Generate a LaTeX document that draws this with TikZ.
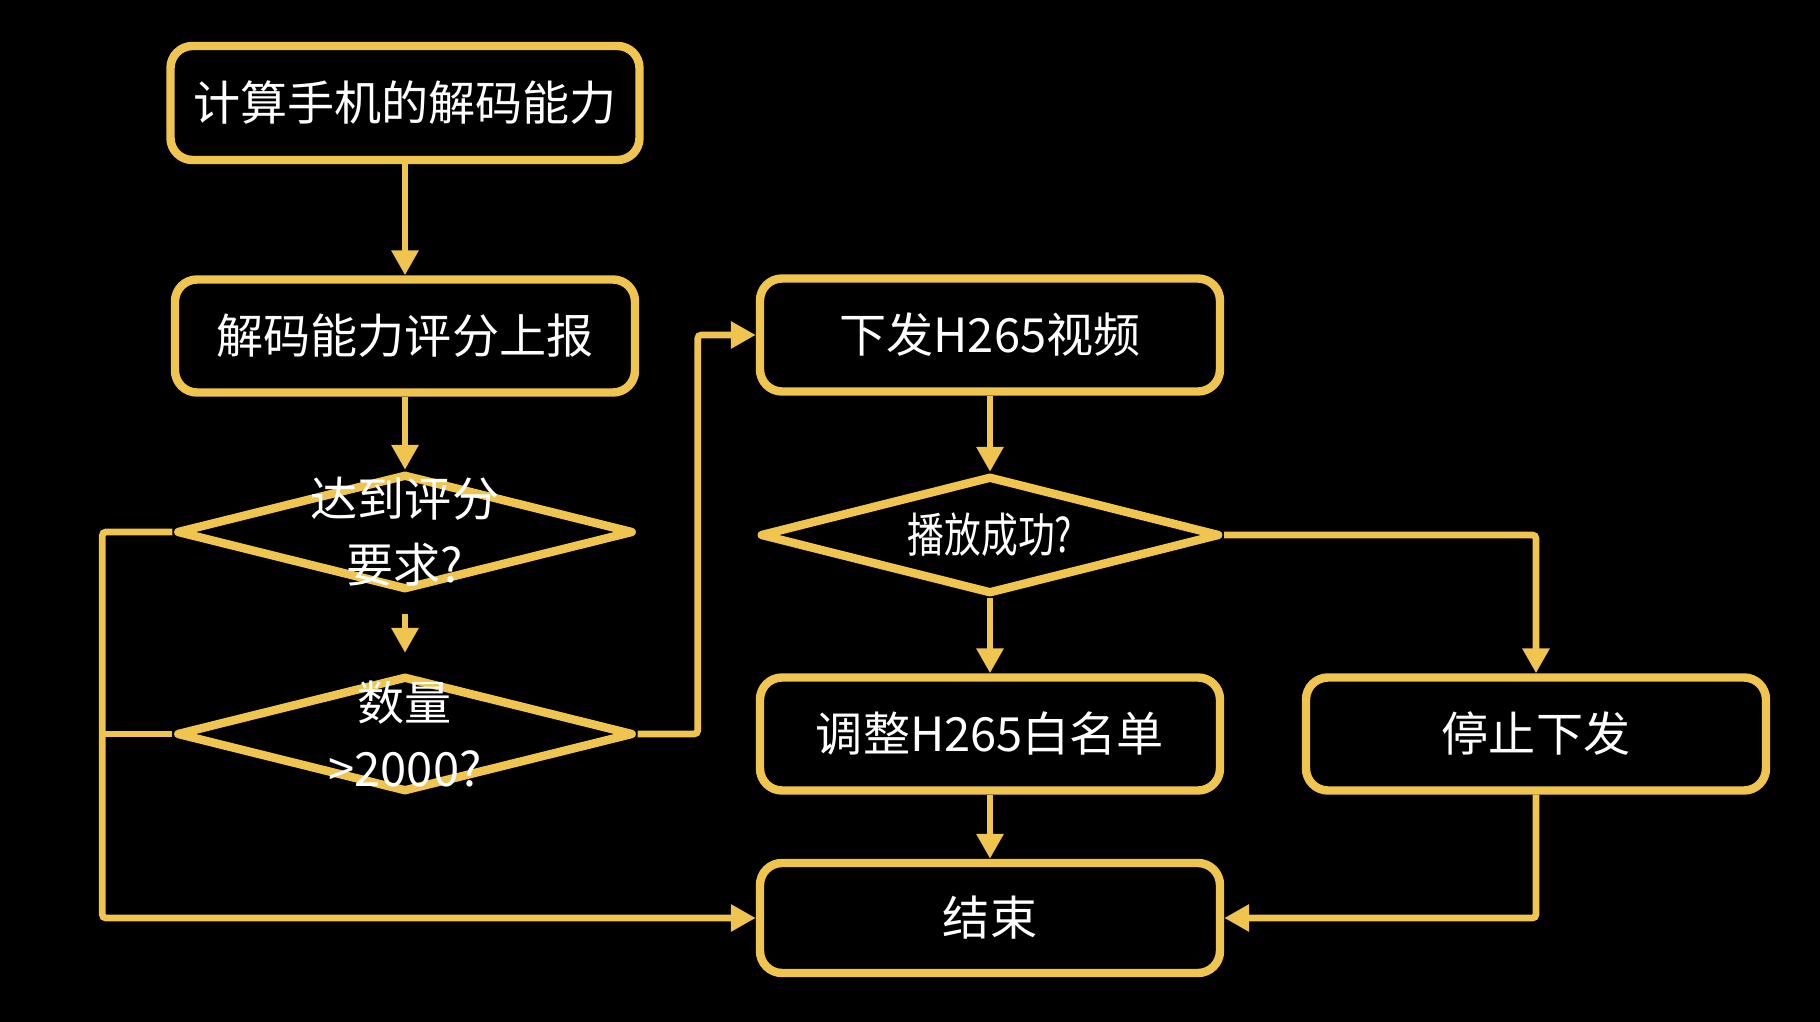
\documentclass[tikz,border=0pt]{standalone}
\usepackage{fontspec}
\usepackage{tikz}
\usetikzlibrary{shapes.geometric,arrows.meta}
\setmainfont{Noto Sans CJK SC}
\definecolor{flowyellow}{RGB}{239,197,80}

\begin{document}
\begin{tikzpicture}[font=\fontsize{13.4pt}{18.8pt}\selectfont,
  proc/.style={rounded corners=2.2mm,draw=flowyellow,line width=2.4pt,minimum width=4.6cm,minimum height=1.13cm,text=white,align=center,inner sep=0pt},
  dec/.style={diamond,draw=flowyellow,line width=2.4pt,line join=round,minimum width=4.57cm,minimum height=1.16cm,inner sep=0pt},
  txt/.style={text=white,align=center,inner sep=0pt},
  arr/.style={-{Triangle[length=2.5mm,width=2.6mm]},draw=flowyellow,line width=1.9pt,rounded corners=1pt},
  ln/.style={draw=flowyellow,line width=1.9pt}]
\fill[black] (0,0) rectangle (18.2,-10.22);
\useasboundingbox (0,0) rectangle (18.2,-10.22);
% left column
\node[proc,minimum width=4.69cm,minimum height=1.14cm] (calc) at (4.05,-1.03) {计算手机的解码能力};
\node[proc] (report) at (4.05,-3.36) {解码能力评分上报};
\node[dec] (score) at (4.05,-5.32) {};
\node[txt] at (score) {达到评分\\要求?};
\node[dec] (count) at (4.05,-7.34) {};
\node[txt] at (count) {数量\\>2000?};
% right columns
\node[proc] (send) at (9.90,-3.35) {下发H265视频};
\node[dec,minimum width=4.6cm,minimum height=1.18cm] (play) at (9.90,-5.35) {};
\node[txt] at (play) {\scalebox{0.78}[1]{播放成功?}};
\node[proc] (white) at (9.90,-7.34) {调整H265白名单};
\node[proc] (stop) at (15.36,-7.34) {停止下发};
\node[proc,minimum height=1.1cm] (fin) at (9.90,-9.18) {结束};
% connectors
\draw[arr] (calc) -- (report);
\draw[arr] (report) -- (score);
\draw[arr,shorten <=2mm,shorten >=1.9mm] (score) -- (count);
\draw[arr] (score.west) -- ++(-0.70,0) |- (fin.west);
\draw[ln] (count.west) -- ++(-0.70,0);
\draw[arr] (count.east) -- ++(0.60,0) |- (send.west);
\draw[arr] (send) -- (play);
\draw[arr] (play) -- (white);
\draw[arr] (play.east) -| (stop.north);
\draw[arr] (white) -- (fin);
\draw[arr] (stop.south) |- (fin.east);
\end{tikzpicture}
\end{document}
